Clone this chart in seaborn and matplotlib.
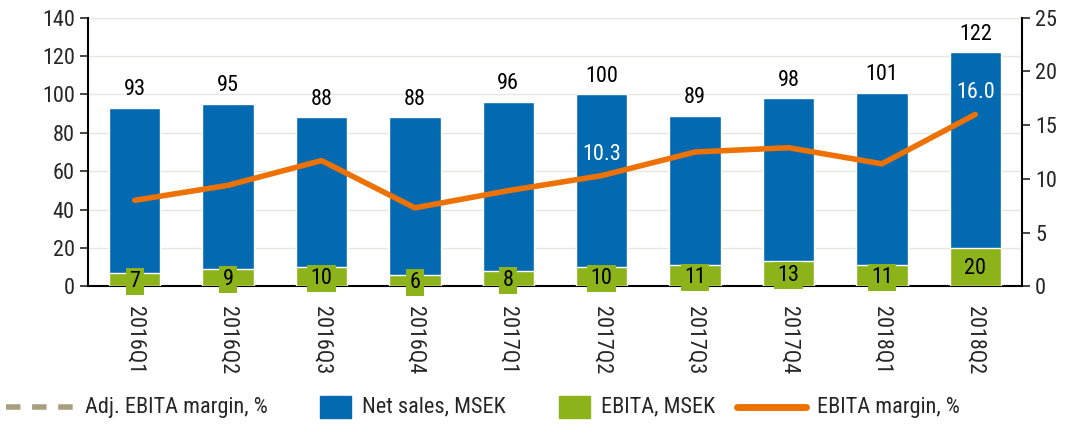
import numpy as np
import pandas as pd
import seaborn as sns
import matplotlib.pyplot as plt
from matplotlib import font_manager
from matplotlib.lines import Line2D
from matplotlib.patches import Rectangle

# ------------------------------
# data
# ------------------------------
quarters = ['2016Q1', '2016Q2', '2016Q3', '2016Q4', '2017Q1',
            '2017Q2', '2017Q3', '2017Q4', '2018Q1', '2018Q2']
net_sales = [93, 95, 88, 88, 96, 100, 89, 98, 101, 122]
ebita = [7, 9, 10, 6, 8, 10, 11, 13, 11, 20]
ebita_margin = [8.0, 9.4, 11.7, 7.3, 8.9, 10.3, 12.5, 12.9, 11.4, 16.0]
margin_labels = {5: '10.3', 9: '16.0'}

blue = '#0369B1'
green = '#8CB31A'
orange = '#EE7203'
tan = '#A89F7E'

sns.set_style('white')

# narrow font if one is around, else plain Liberation Sans
installed = {f.name for f in font_manager.fontManager.ttflist}
fam = 'Liberation Sans'
fs = 14
for cand in ['Liberation Sans Narrow', 'Arial Narrow', 'Roboto Condensed', 'Open Sans Condensed']:
    if cand in installed:
        fam = cand
        fs = 16
        break
plt.rcParams['font.family'] = [fam, 'DejaVu Sans']
plt.rcParams['font.size'] = fs

df = pd.DataFrame({'q': quarters, 'sales': net_sales, 'ebita': ebita, 'margin': ebita_margin})

fig = plt.figure(figsize=(10.81, 4.24), dpi=100)
ax = fig.add_axes([0.0814, 0.325, 0.864, 0.633])

sns.barplot(data=df, x='q', y='sales', color=blue, width=0.55, saturation=1, ax=ax, zorder=2)
sns.barplot(data=df, x='q', y='ebita', color=green, width=0.55, saturation=1, ax=ax, zorder=3)

ax.set_ylim(0, 140)
ax.set_yticks(range(0, 141, 20))
ax.set_xlim(-0.5, len(quarters) - 0.5)
ax.yaxis.grid(True, color='#E8E6DF', lw=1, zorder=0)
ax.set_axisbelow(True)
ax.set_xlabel('')
ax.set_ylabel('')
ax.tick_params(axis='y', direction='out', length=6, width=1.2, left=True, labelsize=fs)
ax.tick_params(axis='x', length=0, labelsize=fs, pad=14)
plt.setp(ax.get_xticklabels(), rotation=-90, va='top', ha='center')
for s in ['left', 'bottom']:
    ax.spines[s].set_linewidth(1.5)
    ax.spines[s].set_color('black')
ax.spines['top'].set_visible(False)
ax.spines['right'].set_visible(False)

for i, v in enumerate(net_sales):
    ax.text(i, v + 4, str(v), ha='center', va='bottom', fontsize=fs, color='black')
for i, v in enumerate(ebita):
    ax.text(i, max(v / 2 - 1, 2), str(v), ha='center', va='center', fontsize=fs, color='black',
            bbox=dict(boxstyle='square,pad=0.15', fc=green, ec='none'), zorder=5)

ax2 = ax.twinx()
sns.lineplot(data=df, x='q', y='margin', color=orange, lw=4, ax=ax2, sort=False, zorder=4)
ax2.set_ylim(0, 25)
ax2.set_yticks(range(0, 26, 5))
ax2.set_ylabel('')
ax2.tick_params(axis='y', direction='out', length=6, width=1.2, right=True, labelsize=fs)
for s in ['top', 'left', 'bottom']:
    ax2.spines[s].set_visible(False)
ax2.spines['right'].set_linewidth(1.5)
ax2.spines['right'].set_color('black')
for i, lab in margin_labels.items():
    ax2.text(i, ebita_margin[i] + 2.0, lab, ha='center', va='center', fontsize=fs, color='white')

# ------------------------------
# legend row drawn by hand at the bottom
# ------------------------------
W, H = 1081, 424
ly = 1 - 407 / H
fig.add_artist(Line2D([6 / W, 74 / W], [ly, ly], color=tan, lw=4, ls=(0, (2.6, 2.1))))
fig.text(85 / W, ly, 'Adj. EBITA margin, %', va='center', ha='left', fontsize=fs)
fig.add_artist(Rectangle((320 / W, 1 - 418 / H), 31 / W, 22 / H, color=blue))
fig.text(362 / W, ly, 'Net sales, MSEK', va='center', ha='left', fontsize=fs)
fig.add_artist(Rectangle((559 / W, 1 - 418 / H), 31 / W, 22 / H, color=green))
fig.text(601 / W, ly, 'EBITA, MSEK', va='center', ha='left', fontsize=fs)
fig.add_artist(Line2D([737 / W, 806 / W], [ly, ly], color=orange, lw=5))
fig.text(817 / W, ly, 'EBITA margin, %', va='center', ha='left', fontsize=fs)

fig.savefig('out.png', dpi=100)
